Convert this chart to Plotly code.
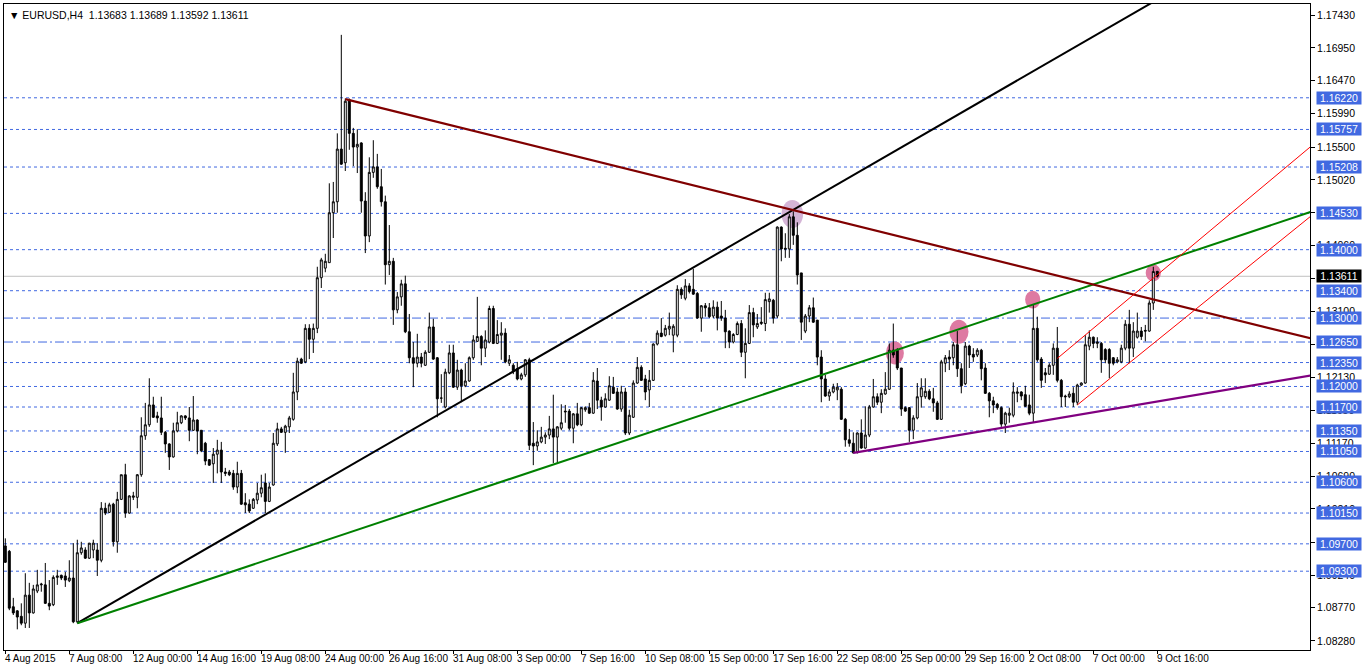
import plotly.graph_objects as go

# ---------------- data (EURUSD H4) ----------------
opens = [1.0967,1.0959,1.0878,1.0872,1.0864,1.0854,1.0895,1.0869,1.0901,1.0910,
         1.0910,1.0883,1.0881,1.0921,1.0924,1.0923,1.0916,1.0920,1.0856,1.0957,
         1.0961,1.0949,1.0961,1.0961,1.0946,1.1022,1.1016,1.1028,1.0973,1.1035,
         1.1071,1.1015,1.1038,1.1038,1.1071,1.1128,1.1144,1.1173,1.1157,1.1154,
         1.1133,1.1116,1.1097,1.1135,1.1147,1.1157,1.1154,1.1136,1.1151,1.1136,
         1.1117,1.1093,1.1087,1.1101,1.1107,1.1075,1.1075,1.1073,1.1053,1.1073,
         1.1030,1.1028,1.1022,1.1034,1.1044,1.1059,1.1032,1.1056,1.1116,1.1138,
         1.1133,1.1141,1.1152,1.1192,1.1240,1.1236,1.1285,1.1269,1.1285,1.1359,
         1.1373,1.1381,1.1454,1.1470,1.1547,1.1527,1.1619,1.1570,1.1550,1.1556,
         1.1471,1.1420,1.1513,1.1521,1.1492,1.1470,1.1378,1.1383,1.1312,1.1331,
         1.1350,1.1280,1.1242,1.1234,1.1243,1.1231,1.1250,1.1287,1.1242,1.1183,
         1.1170,1.1220,1.1249,1.1199,1.1224,1.1201,1.1208,1.1242,1.1266,1.1273,
         1.1256,1.1265,1.1314,1.1263,1.1275,1.1278,1.1234,1.1231,1.1226,1.1211,
         1.1217,1.1239,1.1117,1.1113,1.1119,1.1126,1.1129,1.1138,1.1126,1.1139,
         1.1164,1.1164,1.1139,1.1160,1.1144,1.1166,1.1169,1.1161,1.1208,1.1180,
         1.1170,1.1180,1.1199,1.1192,1.1167,1.1192,1.1132,1.1155,1.1205,1.1228,
         1.1211,1.1195,1.1209,1.1262,1.1278,1.1275,1.1284,1.1275,1.1275,1.1342,
         1.1329,1.1347,1.1342,1.1336,1.1300,1.1318,1.1315,1.1303,1.1316,1.1303,
         1.1300,1.1281,1.1265,1.1276,1.1292,1.1250,1.1263,1.1308,1.1287,1.1292,
         1.1292,1.1324,1.1326,1.1303,1.1433,1.1402,1.1401,1.1448,1.1421,1.1366,
         1.1281,1.1303,1.1315,1.1297,1.1243,1.1211,1.1186,1.1192,1.1195,1.1196,
         1.1152,1.1122,1.1117,1.1104,1.1132,1.1110,1.1129,1.1170,1.1185,1.1177,
         1.1189,1.1196,1.1253,1.1253,1.1227,1.1169,1.1169,1.1136,1.1154,1.1185,
         1.1185,1.1193,1.1182,1.1176,1.1152,1.1234,1.1243,1.1242,1.1261,1.1226,
         1.1204,1.1259,1.1247,1.1246,1.1253,1.1227,1.1190,1.1179,1.1174,1.1169,
         1.1145,1.1158,1.1158,1.1190,1.1192,1.1188,1.1173,1.1161,1.1285,1.1240,
         1.1220,1.1218,1.1231,1.1256,1.1209,1.1186,1.1185,1.1190,1.1177,1.1202,
         1.1205,1.1259,1.1272,1.1263,1.1263,1.1254,1.1254,1.1242,1.1236,1.1236,
         1.1256,1.1291,1.1256,1.1272,1.1281,1.1282,1.1281,1.1322,1.13683]
highs = [1.0978,1.0961,1.0891,1.0873,1.0883,1.0927,1.0913,1.0910,1.0932,1.0913,
         1.0942,1.0917,1.0924,1.0932,1.0925,1.0929,1.0946,1.0971,1.0976,1.0973,
         1.0965,1.0971,1.0976,1.0971,1.1031,1.1030,1.1030,1.1030,1.1046,1.1071,
         1.1087,1.1041,1.1046,1.1072,1.1155,1.1176,1.1212,1.1185,1.1163,1.1185,
         1.1135,1.1117,1.1147,1.1163,1.1158,1.1158,1.1170,1.1186,1.1152,1.1136,
         1.1119,1.1094,1.1110,1.1122,1.1119,1.1081,1.1078,1.1078,1.1090,1.1078,
         1.1044,1.1035,1.1037,1.1059,1.1071,1.1073,1.1059,1.1132,1.1147,1.1141,
         1.1144,1.1157,1.1220,1.1242,1.1242,1.1291,1.1291,1.1292,1.1375,1.1388,
         1.1394,1.1497,1.1499,1.1570,1.1714,1.1621,1.1621,1.1578,1.1576,1.1557,
         1.1484,1.1535,1.1560,1.1540,1.1518,1.1479,1.1436,1.1388,1.1338,1.1356,
         1.1362,1.1306,1.1265,1.1277,1.1249,1.1253,1.1308,1.1299,1.1243,1.1218,
         1.1226,1.1261,1.1261,1.1239,1.1226,1.1234,1.1244,1.1275,1.1331,1.1275,
         1.1282,1.1318,1.1318,1.1297,1.1294,1.1285,1.1246,1.1234,1.1236,1.1220,
         1.1240,1.1242,1.1148,1.1136,1.1141,1.1133,1.1157,1.1188,1.1142,1.1174,
         1.1173,1.1167,1.1161,1.1176,1.1170,1.1171,1.1176,1.1221,1.1227,1.1185,
         1.1190,1.1215,1.1214,1.1198,1.1201,1.1198,1.1166,1.1209,1.1243,1.1231,
         1.1217,1.1224,1.1263,1.1282,1.1300,1.1290,1.1308,1.1291,1.1348,1.1345,
         1.1357,1.1351,1.1372,1.1338,1.1319,1.1322,1.1322,1.1326,1.1324,1.1325,
         1.1312,1.1282,1.1278,1.1295,1.1297,1.1285,1.1319,1.1315,1.1306,1.1316,
         1.1337,1.1337,1.1328,1.1434,1.1434,1.1424,1.1452,1.1456,1.1440,1.1366,
         1.1306,1.1319,1.1330,1.1297,1.1253,1.1217,1.1196,1.1204,1.1205,1.1199,
         1.1154,1.1138,1.1133,1.1133,1.1152,1.1171,1.1173,1.1211,1.1190,1.1196,
         1.1221,1.1263,1.1292,1.1256,1.1227,1.1171,1.1170,1.1158,1.1205,1.1212,
         1.1212,1.1196,1.1198,1.1179,1.1239,1.1246,1.1253,1.1265,1.1281,1.1234,
         1.1265,1.1261,1.1256,1.1256,1.1255,1.1234,1.1192,1.1185,1.1176,1.1171,
         1.1163,1.1169,1.1206,1.1199,1.1193,1.1201,1.1188,1.1319,1.1302,1.1243,
         1.1227,1.1234,1.1263,1.1287,1.1211,1.1188,1.1193,1.1199,1.1204,1.1206,
         1.1275,1.1282,1.1273,1.1272,1.1265,1.1256,1.1256,1.1243,1.1243,1.1261,
         1.1297,1.1312,1.1294,1.1308,1.1287,1.1290,1.1326,1.1375,1.13689]
lows = [1.0942,1.0873,1.0866,1.0845,1.0851,1.0847,1.0847,1.0868,1.0898,1.0900,
        1.0882,1.0873,1.0879,1.0910,1.0917,1.0907,1.0914,1.0854,1.0854,1.0954,
        1.0948,1.0948,1.0949,1.0923,1.0943,1.1012,1.1015,1.0966,1.0957,1.1034,
        1.1008,1.1014,1.1034,1.1022,1.1068,1.1122,1.1141,1.1154,1.1147,1.1129,
        1.1103,1.1078,1.1096,1.1133,1.1145,1.1151,1.1120,1.1135,1.1101,1.1104,
        1.1085,1.1084,1.1059,1.1073,1.1059,1.1069,1.1069,1.1049,1.1044,1.1027,
        1.1015,1.1015,1.1021,1.1028,1.1038,1.1015,1.1031,1.1055,1.1113,1.1132,
        1.1103,1.1132,1.1150,1.1180,1.1233,1.1234,1.1240,1.1249,1.1278,1.1344,
        1.1367,1.1381,1.1417,1.1454,1.1524,1.1515,1.1546,1.1522,1.1512,1.1454,
        1.1395,1.1411,1.1505,1.1489,1.1463,1.1349,1.1363,1.1290,1.1307,1.1318,
        1.1278,1.1234,1.1199,1.1228,1.1228,1.1230,1.1249,1.1239,1.1155,1.1176,
        1.1168,1.1218,1.1198,1.1195,1.1177,1.1199,1.1207,1.1239,1.1265,1.1231,
        1.1243,1.1263,1.1262,1.1262,1.1239,1.1234,1.1230,1.1218,1.1209,1.1209,
        1.1214,1.1107,1.1085,1.1106,1.1117,1.1116,1.1123,1.1088,1.1088,1.1136,
        1.1147,1.1136,1.1117,1.1142,1.1142,1.1163,1.1160,1.1160,1.1167,1.1150,
        1.1169,1.1179,1.1189,1.1166,1.1163,1.1129,1.1129,1.1154,1.1204,1.1208,
        1.1180,1.1170,1.1208,1.1260,1.1272,1.1273,1.1275,1.1250,1.1272,1.1328,
        1.1326,1.1336,1.1334,1.1299,1.1280,1.1302,1.1300,1.1300,1.1282,1.1296,
        1.1256,1.1256,1.1263,1.1275,1.1243,1.1212,1.1262,1.1272,1.1284,1.1290,
        1.1281,1.1308,1.1292,1.1300,1.1383,1.1388,1.1388,1.1407,1.1349,1.1268,
        1.1278,1.1294,1.1293,1.1231,1.1177,1.1185,1.1179,1.1190,1.1180,1.1151,
        1.1112,1.1112,1.1102,1.1102,1.1109,1.1109,1.1126,1.1169,1.1173,1.1161,
        1.1188,1.1195,1.1242,1.1224,1.1157,1.1163,1.1119,1.1123,1.1152,1.1169,
        1.1182,1.1180,1.1163,1.1151,1.1151,1.1221,1.1224,1.1231,1.1214,1.1190,
        1.1202,1.1227,1.1236,1.1243,1.1209,1.1189,1.1155,1.1161,1.1166,1.1141,
        1.1132,1.1147,1.1155,1.1177,1.1180,1.1170,1.1158,1.1148,1.1236,1.1198,
        1.1205,1.1217,1.1217,1.1206,1.1170,1.1170,1.1183,1.1170,1.1173,1.1201,
        1.1204,1.1253,1.1256,1.1256,1.1220,1.1234,1.1212,1.1231,1.1234,1.1234,
        1.1253,1.1234,1.1243,1.1270,1.1268,1.1266,1.1280,1.1312,1.13592]
closes = [1.0943,1.0876,1.0869,1.0863,1.0854,1.0895,1.0869,1.0904,1.0910,1.0911,
          1.0883,1.0879,1.0921,1.0923,1.0920,1.0917,1.0920,1.0856,1.0957,1.0964,
          1.0949,1.0971,1.0971,1.0946,1.1022,1.1015,1.1027,1.0973,1.1035,1.1071,
          1.1015,1.1040,1.1040,1.1071,1.1128,1.1144,1.1173,1.1155,1.1154,1.1133,
          1.1116,1.1097,1.1135,1.1147,1.1157,1.1154,1.1136,1.1151,1.1135,1.1106,
          1.1091,1.1085,1.1101,1.1107,1.1075,1.1073,1.1071,1.1053,1.1073,1.1028,
          1.1027,1.1018,1.1035,1.1044,1.1052,1.1032,1.1053,1.1117,1.1138,1.1133,
          1.1142,1.1154,1.1192,1.1237,1.1234,1.1285,1.1269,1.1285,1.1359,1.1385,
          1.1383,1.1454,1.1470,1.1547,1.1525,1.1617,1.1570,1.1550,1.1554,1.1471,
          1.1420,1.1513,1.1521,1.1492,1.1470,1.1378,1.1383,1.1312,1.1331,1.1350,
          1.1280,1.1242,1.1234,1.1243,1.1234,1.1250,1.1287,1.1240,1.1182,1.1183,
          1.1221,1.1249,1.1199,1.1224,1.1201,1.1208,1.1242,1.1268,1.1273,1.1256,
          1.1268,1.1314,1.1263,1.1276,1.1278,1.1236,1.1239,1.1223,1.1211,1.1217,
          1.1239,1.1114,1.1113,1.1119,1.1126,1.1129,1.1138,1.1126,1.1141,1.1147,
          1.1163,1.1139,1.1160,1.1144,1.1169,1.1169,1.1161,1.1209,1.1180,1.1170,
          1.1182,1.1201,1.1190,1.1167,1.1192,1.1132,1.1158,1.1205,1.1228,1.1209,
          1.1192,1.1209,1.1262,1.1278,1.1273,1.1285,1.1288,1.1288,1.1342,1.1334,
          1.1347,1.1339,1.1335,1.1300,1.1318,1.1315,1.1302,1.1316,1.1300,1.1300,
          1.1280,1.1265,1.1276,1.1292,1.1250,1.1263,1.1308,1.1290,1.1292,1.1294,
          1.1327,1.1328,1.1300,1.1433,1.1401,1.1401,1.1448,1.1421,1.1363,1.1294,
          1.1303,1.1315,1.1294,1.1243,1.1211,1.1186,1.1192,1.1199,1.1199,1.1152,
          1.1122,1.1117,1.1103,1.1132,1.1110,1.1129,1.1170,1.1185,1.1177,1.1190,
          1.1196,1.1253,1.1246,1.1227,1.1167,1.1164,1.1136,1.1154,1.1185,1.1198,
          1.1193,1.1182,1.1176,1.1152,1.1236,1.1242,1.1240,1.1261,1.1226,1.1201,
          1.1259,1.1246,1.1243,1.1253,1.1226,1.1190,1.1179,1.1173,1.1169,1.1145,
          1.1161,1.1161,1.1192,1.1192,1.1186,1.1171,1.1161,1.1285,1.1239,1.1209,
          1.1217,1.1231,1.1256,1.1209,1.1185,1.1185,1.1189,1.1177,1.1202,1.1205,
          1.1261,1.1272,1.1263,1.1265,1.1239,1.1239,1.1234,1.1234,1.1239,1.1256,
          1.1291,1.1256,1.1281,1.1281,1.1273,1.1281,1.1322,1.1368,1.13611]
bars = list(range(len(opens)))

date_label_bars = [0, 16, 32, 48, 64, 80, 96, 112, 128, 144, 160, 176, 192, 208, 224, 240, 256, 272, 288]
date_labels = ["4 Aug 2015", "7 Aug 08:00", "12 Aug 00:00", "14 Aug 16:00", "19 Aug 08:00",
               "24 Aug 00:00", "26 Aug 16:00", "31 Aug 08:00", "3 Sep 00:00", "7 Sep 16:00",
               "10 Sep 08:00", "15 Sep 00:00", "17 Sep 16:00", "22 Sep 08:00", "25 Sep 00:00",
               "29 Sep 16:00", "2 Oct 08:00", "7 Oct 00:00", "9 Oct 16:00"]

price_ticks = [1.17430, 1.16950, 1.16470, 1.15990, 1.15500, 1.15020, 1.14540, 1.14060,
               1.13580, 1.13100, 1.12610, 1.12130, 1.11650, 1.11170, 1.10690, 1.10210,
               1.09720, 1.09240, 1.08770, 1.08280]

levels_dashed = [1.16220, 1.15757, 1.15208, 1.14530, 1.14000, 1.13400, 1.12350, 1.12000,
                 1.11700, 1.11350, 1.11050, 1.10600, 1.10150, 1.09700, 1.09300]
levels_dashdot = [1.13000, 1.12650]
bid_price = 1.13611

# trend rays: two anchor points (bar, price) each
trend_names = ["support_black", "support_green", "resist_maroon", "support_purple", "chan_upper", "chan_lower"]
trend_bar1 = [18, 18, 85, 212, 263, 268]
trend_price1 = [1.0854, 1.0854, 1.1620, 1.1103, 1.1241, 1.1173]
trend_bar2 = [204.9, 236, 261, 290, 290, 290]
trend_price2 = [1.1485, 1.1279, 1.1365, 1.1180, 1.1373, 1.1277]

# highlighted touch points (ellipses): centre bar, centre price
mark_bars = [196.75, 222.4, 238.4, 256.85, 287.0]
mark_prices = [1.1452, 1.1249, 1.1280, 1.1327, 1.1366]

title_text = "EURUSD,H4  1.13683 1.13689 1.13592 1.13611"

# ---------------- styling ----------------
FONT = "Liberation Sans, Arial, sans-serif"
BLUE = "#4169E1"
X_MIN, X_MAX = -0.325, 326.175
Y_MIN, Y_MAX = 1.08148, 1.17591

trend_colors = ["#000000", "#008000", "#800000", "#800080", "#FF0000", "#FF0000"]
trend_widths = [2, 2, 2.2, 2.2, 1, 1]
mark_rx = [2.7, 2.25, 2.4, 1.9, 1.9]
mark_ry = [0.00205, 0.00168, 0.00175, 0.0013, 0.00124]
mark_colors = ["#D4B4D6", "#DE7AA2", "#DE7AA2", "#DE7AA2", "#DE7AA2"]

fig = go.Figure()
fig.add_trace(go.Candlestick(
    x=bars, open=opens, high=highs, low=lows, close=closes,
    increasing=dict(line=dict(color="black", width=1), fillcolor="white"),
    decreasing=dict(line=dict(color="black", width=1), fillcolor="black"),
    whiskerwidth=0, hoverinfo="skip", showlegend=False,
))

shapes = []
for p in levels_dashed:
    shapes.append(dict(type="line", xref="paper", x0=0, x1=1, yref="y", y0=p, y1=p,
                       line=dict(color=BLUE, width=1, dash="3px,3px"), layer="below"))
for p in levels_dashdot:
    shapes.append(dict(type="line", xref="paper", x0=0, x1=1, yref="y", y0=p, y1=p,
                       line=dict(color=BLUE, width=1, dash="9px,3px,2px,3px"), layer="below"))
shapes.append(dict(type="line", xref="paper", x0=0, x1=1, yref="y", y0=bid_price, y1=bid_price,
                   line=dict(color="#C0C0C0", width=1), layer="below"))

for cx, cy, rx, ry, col in zip(mark_bars, mark_prices, mark_rx, mark_ry, mark_colors):
    shapes.append(dict(type="circle", xref="x", yref="y", x0=cx - rx, x1=cx + rx,
                       y0=cy - ry, y1=cy + ry, fillcolor=col, line=dict(width=0), layer="below"))

for b1, p1, b2, p2, col, w in zip(trend_bar1, trend_price1, trend_bar2, trend_price2,
                                  trend_colors, trend_widths):
    slope = (p2 - p1) / (b2 - b1)
    p_end = p1 + slope * (X_MAX + 2 - b1)
    shapes.append(dict(type="line", xref="x", yref="y", x0=b1, y0=p1, x1=X_MAX + 2, y1=p_end,
                       line=dict(color=col, width=w), layer="above"))

annotations = []
annotations.append(dict(xref="paper", yref="paper", x=0, y=1, xanchor="left", yanchor="top",
                        xshift=3, yshift=-3, showarrow=False,
                        text="\u25BC " + title_text, font=dict(family=FONT, size=10.5, color="black")))
for b, lab in zip(date_label_bars, date_labels):
    annotations.append(dict(xref="x", yref="paper", x=b, y=0, xanchor="left", yanchor="top",
                            xshift=-2, yshift=-1, showarrow=False, text=lab,
                            font=dict(family=FONT, size=10, color="black")))
for p in levels_dashed + levels_dashdot:
    annotations.append(dict(xref="paper", yref="y", x=1, y=p, xanchor="left", yanchor="middle",
                            xshift=6, showarrow=False, text=f"{p:.5f}", bgcolor=BLUE,
                            width=44, height=12, borderpad=0,
                            font=dict(family=FONT, size=10.5, color="white")))
annotations.append(dict(xref="paper", yref="y", x=1, y=bid_price, xanchor="left", yanchor="middle",
                        xshift=6, showarrow=False, text=f"{bid_price:.5f}", bgcolor="black",
                        width=44, height=12, borderpad=0,
                        font=dict(family=FONT, size=10.5, color="white")))

fig.update_layout(
    width=1366, height=665,
    margin=dict(l=4, r=56, t=4, b=15),
    paper_bgcolor="white", plot_bgcolor="white",
    shapes=shapes, annotations=annotations,
    showlegend=False,
    xaxis=dict(range=[X_MIN, X_MAX], rangeslider=dict(visible=False), showgrid=False,
               zeroline=False, showline=True, linecolor="black", linewidth=1, mirror=True,
               tickvals=date_label_bars, ticktext=[""] * len(date_label_bars),
               ticks="outside", ticklen=3, tickcolor="black", fixedrange=True),
    yaxis=dict(range=[Y_MIN, Y_MAX], side="right", showgrid=False, zeroline=False,
               showline=True, linecolor="black", linewidth=1, mirror=True,
               tickvals=price_ticks, ticktext=[f"{v:.5f}" for v in price_ticks],
               ticks="outside", ticklen=4, tickcolor="black",
               tickfont=dict(family=FONT, size=10.5, color="black"), fixedrange=True),
)

fig.write_html("out.html", config={"displayModeBar": False},
               post_script="document.body.style.margin='0';document.body.style.overflow='hidden';")
